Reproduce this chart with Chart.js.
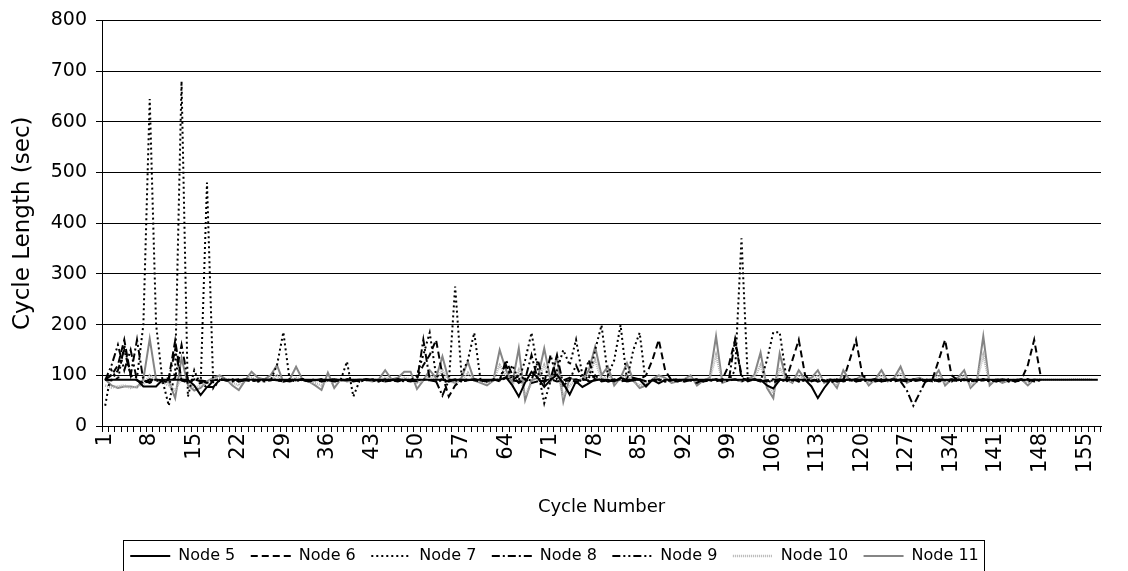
<!DOCTYPE html>
<html>
<head>
<meta charset="utf-8">
<script src="https://cdn.jsdelivr.net/npm/chart.js@4.4.0/dist/chart.umd.min.js"></script>
<style>
  html, body { margin: 0; padding: 0; background: #fff; }
</style>
</head>
<body>
<canvas id="myChart" width="1128" height="571"></canvas>
<script>
// categories: cycle numbers 1..157
const cycles = [];
for (let i = 1; i <= 157; i++) cycles.push(String(i));

const yMax = 800;
const yStep = 100;
const labelEvery = 7;

// cycle length (sec) per node
const node5 = [
  91,91,91,91,91,91,78,78,78,91,
  91,91,91,91,80,61,77,77,91,91,
  91,91,91,91,91,91,91,91,91,91,
  91,91,91,91,91,91,91,91,91,91,
  91,91,91,91,91,91,91,91,91,91,
  91,91,91,91,88,91,91,91,91,91,
  91,91,91,96,80,58,86,107,95,77,
  91,101,84,62,88,77,84,92,91,91,
  88,95,91,91,91,78,91,84,91,91,
  91,91,91,91,91,91,91,91,91,91,
  91,91,91,91,80,74,91,91,91,91,
  91,78,55,75,91,91,91,91,91,91,
  91,91,91,91,91,91,91,91,91,91,
  91,91,91,91,91,91,91,91,91,91,
  91,91,91,91,91,91,91,91,91,91,
  91,91,91,91,91,91,91
];
const node6 = [
  92,100,120,170,100,90,85,88,92,90,
  95,168,90,85,92,90,88,90,92,90,
  90,92,90,88,90,92,90,90,88,90,
  90,92,90,90,88,90,92,90,90,88,
  90,92,90,90,88,90,92,90,90,95,
  120,140,170,100,58,80,90,92,90,88,
  90,92,88,95,90,100,92,85,88,90,
  92,88,90,95,85,92,90,100,88,90,
  92,88,90,95,92,100,130,170,110,90,
  88,92,90,85,92,90,88,92,120,170,
  95,90,92,88,90,85,92,90,130,170,
  100,88,92,90,85,92,90,130,170,100,
  90,92,88,90,92,90,88,92,90,88,
  92,130,170,100,90,92,88,90,92,90,
  88,92,90,88,92,120,170,100
];
const node7 = [
  40,110,90,160,100,95,200,645,200,90,
  40,110,680,58,110,80,480,75,90,92,
  90,88,92,90,88,92,90,120,185,90,
  88,92,90,92,88,90,92,90,127,58,
  90,92,90,88,90,92,90,88,90,100,
  140,184,100,90,85,275,100,130,184,90,
  88,92,90,95,120,90,130,184,110,45,
  90,110,150,120,170,100,92,150,199,100,
  130,199,90,150,184,80,92,90,88,92,
  90,88,92,90,88,92,90,92,90,110,
  370,90,92,88,130,185,185,100,90,88,
  92,90,88,92,90,88,92,90,88,92,
  90,88,92,90,88,92,90,88,92,90,
  88,92,90,88,92,90,88,92,90,88,
  92,90,88,92,90,92,90,90
];
const node8 = [
  92,90,110,150,100,170,90,85,92,90,
  85,95,160,90,92,88,75,90,92,90,
  92,88,90,92,90,88,90,92,90,88,
  90,92,88,90,92,90,88,90,92,90,
  88,92,90,88,92,90,88,92,90,88,
  170,92,88,60,90,92,88,90,92,90,
  88,92,90,130,100,85,92,140,90,88,
  92,140,80,90,92,88,130,90,92,88,
  90,92,88,90,92,88,90,92,88,90,
  92,88,90,92,88,90,92,88,90,170,
  100,88,92,90,88,90,92,88,90,92,
  88,90,92,88,90,92,88,90,92,88,
  90,92,88,90,92,88,70,40,65,90,
  92,88,90,92,88,90,92,88,90,92,
  88,90,92,88,90,92,88,90
];
const node9 = [
  90,120,160,110,150,90,85,92,90,88,
  92,150,90,88,92,90,85,90,92,90,
  88,90,92,90,88,90,92,90,88,90,
  92,90,88,90,92,90,88,90,92,90,
  88,90,92,90,88,90,92,90,88,90,
  92,90,88,90,92,90,88,90,92,90,
  88,90,92,120,90,88,92,90,130,85,
  140,92,88,90,120,92,88,90,92,88,
  90,92,88,90,92,88,90,92,88,90,
  92,88,90,92,88,90,92,88,90,92,
  88,90,92,88,90,92,88,90,92,88,
  90,92,88,90,92,88,90,92,88,90,
  92,88,90,92,88,90,92,88,90,92,
  88,90,92,88,90,92,88,90,92,88,
  90,92,88,90,92,88,90,91
];
const node10 = [
  80,76,78,80,75,78,82,100,90,86,
  80,70,95,85,75,80,85,92,95,90,
  85,80,92,95,90,88,92,100,88,90,
  95,90,88,85,80,92,85,90,90,91,
  91,91,91,91,95,92,90,95,92,85,
  90,100,92,110,88,85,90,105,90,88,
  85,90,120,100,80,110,60,85,90,120,
  88,110,60,80,90,90,100,130,92,100,
  85,92,100,88,80,85,90,95,92,88,
  90,92,95,85,90,92,140,88,90,92,
  90,92,95,120,80,65,115,90,88,100,
  92,90,100,88,92,80,100,90,92,95,
  85,92,100,90,92,105,88,90,92,90,
  92,100,85,92,92,100,80,90,140,85,
  92,88,90,90,92,85,92,91,91,91,
  91,91,92,92,92,92
];
const node11 = [
  92,80,75,78,78,76,92,172,92,85,
  88,55,134,81,70,75,88,95,100,92,
  80,71,90,107,95,92,100,120,87,92,
  117,92,88,80,71,105,75,92,88,90,
  92,90,88,92,110,92,95,107,107,73,
  90,110,95,137,90,85,95,127,90,85,
  80,90,150,110,85,153,51,90,95,153,
  90,137,48,95,90,92,110,156,100,117,
  80,95,124,90,75,80,92,100,95,85,
  88,92,100,80,90,95,177,85,90,92,
  88,92,100,145,75,55,143,92,85,110,
  92,95,110,85,92,75,110,90,92,100,
  80,92,110,88,95,117,85,92,95,88,
  92,110,80,92,95,110,75,88,177,80,
  92,85,90,88,92,80,92,90
];

const font = 'DejaVu Sans, Liberation Sans, sans-serif';

function series(label, data, color, width, dash) {
  return {
    label: label,
    data: data,
    borderColor: color,
    backgroundColor: color,
    borderWidth: width,
    borderDash: dash,
    pointRadius: 0,
    pointHoverRadius: 0,
    tension: 0,
    fill: false
  };
}

// box round the legend, like the original
const legendBox = {
  id: 'legendBox',
  afterDraw(chart) {
    const boxes = chart.legend.legendHitBoxes;
    if (!boxes || !boxes.length) return;
    const first = boxes[0];
    const last = boxes[boxes.length - 1];
    const ctx = chart.ctx;
    const l = Math.round(first.left) - 6.5;
    const r = Math.round(last.left + last.width) + 5.5;
    const t = Math.round(first.top) - 7.5;
    ctx.save();
    ctx.strokeStyle = '#000';
    ctx.lineWidth = 1;
    ctx.strokeRect(l, t, r - l, 60);
    ctx.restore();
  }
};

const chartElement = document.getElementById('myChart');
const myChart = new Chart(chartElement, {
  type: 'line',
  data: {
    labels: cycles,
    datasets: [
      series('Node 5', node5, '#000', 2, []),
      series('Node 6', node6, '#000', 2, [7, 4]),
      series('Node 7', node7, '#000', 2, [2, 3]),
      series('Node 8', node8, '#000', 2, [8, 3, 2, 3]),
      series('Node 9', node9, '#000', 2, [8, 3, 2, 3, 2, 3]),
      series('Node 10', node10, '#b4b4b4', 2.5, [1, 1]),
      series('Node 11', node11, '#858585', 2, [])
    ]
  },
  options: {
    responsive: false,
    animation: false,
    events: [],
    layout: { padding: { left: 8, right: 27, top: 20, bottom: -3 } },
    plugins: {
      tooltip: { enabled: false },
      legend: {
        position: 'bottom',
        labels: {
          usePointStyle: true,
          pointStyle: 'line',
          pointStyleWidth: 40,
          padding: 15.5,
          color: '#000',
          font: { family: font, size: 16 },
          // point style legend drops the dash, so put it back from the dataset
          generateLabels: function (chart) {
            const items = Chart.defaults.plugins.legend.labels.generateLabels(chart);
            items.forEach(function (item) {
              const ds = chart.data.datasets[item.datasetIndex];
              item.lineDash = ds.borderDash;
              item.lineWidth = ds.borderWidth;
              item.strokeStyle = ds.borderColor;
            });
            return items;
          }
        }
      }
    },
    scales: {
      x: {
        offset: true,
        afterFit: function (scale) { scale.height = 106.5; },
        grid: { offset: true, drawOnChartArea: false, tickLength: 6, color: '#000' },
        border: { color: '#000', width: 1 },
        ticks: {
          autoSkip: false,
          maxRotation: 90,
          minRotation: 90,
          padding: 1,
          color: '#000',
          font: { family: font, size: 21 },
          callback: function (val, index) {
            return index % labelEvery === 0 ? this.getLabelForValue(val) : '';
          }
        },
        title: {
          display: true,
          text: 'Cycle Number',
          color: '#000',
          font: { family: font, size: 18 },
          padding: { top: 0, bottom: 14 }
        }
      },
      y: {
        min: 0,
        max: yMax,
        afterFit: function (scale) { scale.width = 94; },
        grid: { color: '#000', lineWidth: 1, tickLength: 6 },
        border: { color: '#000', width: 1 },
        ticks: {
          stepSize: yStep,
          padding: 9,
          color: '#000',
          font: { family: font, size: 19 }
        },
        title: {
          display: true,
          text: 'Cycle Length (sec)',
          color: '#000',
          font: { family: font, size: 23 },
          padding: { top: 1, bottom: 0 }
        }
      }
    }
  },
  plugins: [legendBox]
});
</script>
</body>
</html>
